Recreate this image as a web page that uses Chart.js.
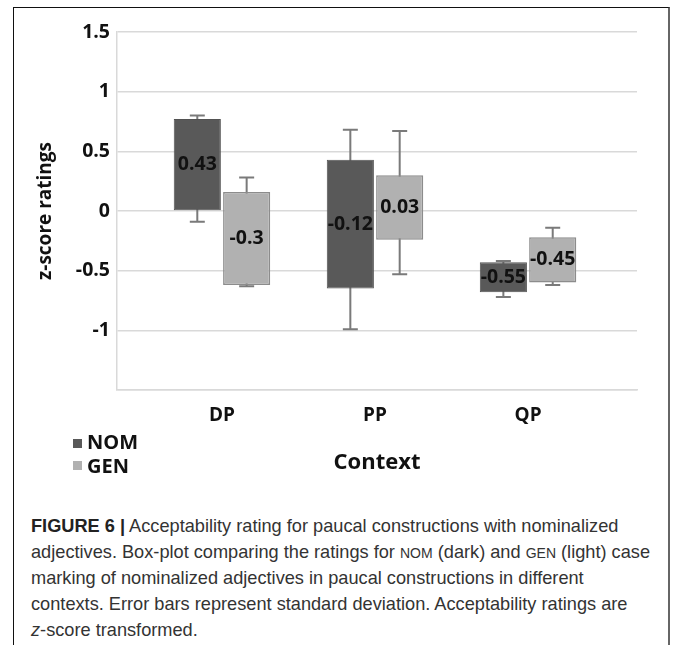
<!DOCTYPE html>
<html>
<head>
<meta charset="utf-8">
<script src="https://cdn.jsdelivr.net/npm/chart.js@4"></script>
<style>
  html, body { margin: 0; padding: 0; background: #fff; }
  body { width: 675px; height: 645px; position: relative; overflow: hidden; }
  #frame { position: absolute; left: 13px; top: 7px; width: 654px; height: 660px;
           border-left: 1px solid #111; border-top: 1px solid #111; border-right: 2px solid #666; }
  #wrap { position: absolute; left: 0; top: 0; width: 675px; height: 490px; }
  .leg { position: absolute; left: 73px; font: bold 20px "Open Sans", sans-serif; color: #111; line-height: 24px; }
  .leg i { position: absolute; left: 0; width: 9px; height: 9px; }
  .leg span { position: absolute; left: 14px; top: 0; white-space: nowrap; }
  #caption { position: absolute; left: 31px; top: 514px; width: 640px; color: #333;
             font: 18.2px "Liberation Sans", Arial, sans-serif; line-height: 25.7px; white-space: nowrap; }
  #caption b { color: #222; }
  #caption small { font-size: 14px; }
</style>
</head>
<body>
<div id="frame"></div>
<div id="wrap"><canvas id="chart" width="675" height="490"></canvas></div>
<div class="leg" style="top:430px"><i style="top:9px;background:#595959"></i><span>NOM</span></div>
<div class="leg" style="top:454px"><i style="top:7px;background:#b1b1b1"></i><span>GEN</span></div>
<div id="caption">
  <b>FIGURE 6 |</b> Acceptability rating for paucal constructions with nominalized<br>
  adjectives. Box-plot comparing the ratings for <small>NOM</small> (dark) and <small>GEN</small> (light) case<br>
  marking of nominalized adjectives in paucal constructions in different<br>
  contexts. Error bars represent standard deviation. Acceptability ratings are<br>
  <i>z</i>-score transformed.
</div>
<script>
  // categories and tick labels
  var categories = ['DP', 'PP', 'QP'];
  var yTickValues = [1.5, 1, 0.5, 0, -0.5, -1, -1.5];
  var yTickLabels = ['1.5', '1', '0.5', '0', '-0.5', '-1', ''];

  // NOM (dark): box range, whiskers, printed value
  var nomBoxLow = [0.00, -0.65, -0.68];
  var nomBoxHigh = [0.77, 0.43, -0.43];
  var nomWhiskLow = [-0.09, -0.99, -0.72];
  var nomWhiskHigh = [0.80, 0.68, -0.42];
  var nomLabels = ['0.43', '-0.12', '-0.55'];

  // GEN (light)
  var genBoxLow = [-0.62, -0.24, -0.60];
  var genBoxHigh = [0.16, 0.30, -0.22];
  var genWhiskLow = [-0.63, -0.53, -0.62];
  var genWhiskHigh = [0.28, 0.67, -0.14];
  var genLabels = ['-0.3', '0.03', '-0.45'];

  var FONT = '"Open Sans", sans-serif';

  function boxes(low, high) {
    return categories.map(function (c, i) { return { x: i, y: [low[i], high[i]] }; });
  }

  // whiskers under the boxes, value text on top
  var whiskerPlugin = {
    id: 'whiskers',
    beforeDatasetsDraw: function (chart) {
      var ctx = chart.ctx, ys = chart.scales.y;
      chart.data.datasets.forEach(function (ds, di) {
        var meta = chart.getDatasetMeta(di);
        meta.data.forEach(function (bar, i) {
          var lo = ys.getPixelForValue(ds.whiskLow[i]);
          var hi = ys.getPixelForValue(ds.whiskHigh[i]);
          ctx.save();
          ctx.strokeStyle = '#7a7a7a';
          ctx.lineWidth = 2;
          ctx.beginPath();
          ctx.moveTo(bar.x, lo); ctx.lineTo(bar.x, hi);
          ctx.moveTo(bar.x - 7.5, lo); ctx.lineTo(bar.x + 7.5, lo);
          ctx.moveTo(bar.x - 7.5, hi); ctx.lineTo(bar.x + 7.5, hi);
          ctx.stroke();
          ctx.restore();
        });
      });
    },
    afterDatasetsDraw: function (chart) {
      var ctx = chart.ctx;
      chart.data.datasets.forEach(function (ds, di) {
        var meta = chart.getDatasetMeta(di);
        meta.data.forEach(function (bar, i) {
          ctx.save();
          ctx.fillStyle = '#111';
          ctx.font = 'bold 19.5px ' + FONT;
          ctx.textAlign = 'center';
          ctx.textBaseline = 'middle';
          ctx.fillText(ds.valueLabels[i], bar.x, (bar.y + bar.base) / 2);
          ctx.restore();
        });
      });
    }
  };

  new Chart(document.getElementById('chart'), {
    type: 'bar',
    data: {
      datasets: [{
        label: 'NOM',
        data: boxes(nomBoxLow, nomBoxHigh),
        whiskLow: nomWhiskLow, whiskHigh: nomWhiskHigh, valueLabels: nomLabels,
        backgroundColor: '#595959',
        borderColor: '#525252',
        borderWidth: 1,
        borderSkipped: false
      }, {
        label: 'GEN',
        data: boxes(genBoxLow, genBoxHigh),
        whiskLow: genWhiskLow, whiskHigh: genWhiskHigh, valueLabels: genLabels,
        backgroundColor: '#b1b1b1',
        borderColor: '#8c8c8c',
        borderWidth: 1.5,
        borderSkipped: false
      }]
    },
    options: {
      responsive: false,
      animation: false,
      categoryPercentage: 0.645,
      barPercentage: 0.955,
      layout: { padding: { top: 32, right: 38, left: 0, bottom: 0 } },
      plugins: { legend: { display: false }, tooltip: { enabled: false } },
      scales: {
        x: {
          type: 'linear',
          min: -0.686,
          max: 2.712,
          offset: false,
          afterFit: function (s) { s.height = 100; },
          afterBuildTicks: function (s) {
            s.ticks = categories.map(function (c, i) { return { value: i }; });
          },
          grid: { display: false, drawTicks: false },
          border: { display: true, color: '#d9d9d9', width: 1.5 },
          ticks: {
            padding: 14,
            color: '#111',
            font: { family: FONT, size: 19, weight: 'bold' },
            callback: function (v) { return categories[v]; }
          },
          title: {
            display: true,
            text: 'Context',
            color: '#111',
            font: { family: FONT, size: 22, weight: 'bold' },
            padding: { top: 0, bottom: 14 }
          }
        },
        y: {
          min: -1.5,
          max: 1.5,
          afterFit: function (s) { s.width = 117; },
          afterBuildTicks: function (s) {
            s.ticks = yTickValues.map(function (v) { return { value: v }; });
          },
          grid: { color: '#d9d9d9', lineWidth: 1.5, drawTicks: false },
          border: { display: true, color: '#d9d9d9', width: 1.5 },
          ticks: {
            padding: 7,
            color: '#111',
            font: { family: FONT, size: 19.5, weight: 'bold' },
            callback: function (v) { return yTickLabels[yTickValues.indexOf(v)]; }
          },
          title: {
            display: true,
            text: 'z-score ratings',
            color: '#111',
            font: { family: FONT, size: 19, weight: 'bold' },
            padding: { top: 34, bottom: 0 }
          }
        }
      }
    },
    plugins: [whiskerPlugin]
  });
</script>
</body>
</html>
